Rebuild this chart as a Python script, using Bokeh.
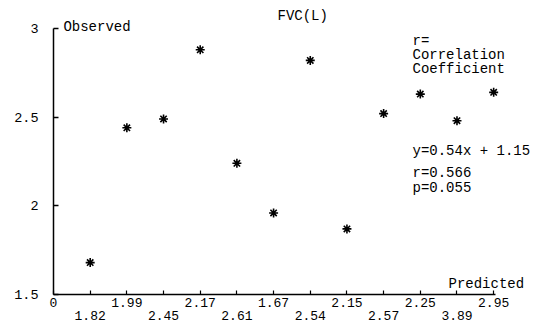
from bokeh.plotting import figure
from bokeh.models import FixedTicker, Range1d, Label, LabelSet, ColumnDataSource
from bokeh.core.properties import value
from bokeh.embed import file_html
from bokeh.resources import INLINE

# ---- data ----
positions = [1, 2, 3, 4, 5, 6, 7, 8, 9, 10, 11, 12]
predicted_labels = ["1.82", "1.99", "2.45", "2.17", "2.61", "1.67",
                    "2.54", "2.15", "2.57", "2.25", "3.89", "2.95"]
observed = [1.68, 2.44, 2.49, 2.88, 2.24, 1.96, 2.82, 1.87, 2.52, 2.63, 2.48, 2.64]
y_ticks = [1.5, 2, 2.5, 3]
y_tick_labels = ["1.5", "2", "2.5", "3"]

FONT = "Liberation Mono"

# frame covers the whole canvas; axes are pinned with fixed_location
# x: 0 -> px 53, 12.05 -> px 495 ; y: 3 -> px 28, 1.5 -> px 294
XS = 442 / 12.05
YS = 266 / 1.5
p = figure(width=540, height=323, output_backend="svg", toolbar_location=None,
           x_range=Range1d(-53 / XS, 487 / XS),
           y_range=Range1d(1.5 - 29 / YS, 3 + 28 / YS),
           min_border=0)
p.outline_line_color = None
p.xgrid.visible = False
p.ygrid.visible = False

# scatter of asterisks
src = ColumnDataSource(dict(x=positions, y=observed))
p.scatter("x", "y", source=src, marker="asterisk", size=9, line_width=1.6,
          line_color="black")

# y axis
ya = p.yaxis[0]
ya.fixed_location = 0
ya.bounds = (1.5, 3)
ya.ticker = FixedTicker(ticks=y_ticks, minor_ticks=[])
ya.major_label_overrides = {t: l for t, l in zip(y_ticks, y_tick_labels)}
ya.major_tick_in = 5
ya.major_tick_out = 0
ya.minor_tick_line_color = None
ya.axis_line_width = 1.5
ya.axis_line_color = "black"
ya.major_tick_line_color = "black"
ya.major_tick_line_width = 1.3
ya.major_label_standoff = 15
ya.major_label_text_font = FONT
ya.major_label_text_font_size = "13.5px"
ya.major_label_text_color = "black"

# x axis: upper row of predicted labels (even positions) + origin "0"
xa = p.xaxis[0]
xa.fixed_location = 1.5
xa.bounds = (0, 12.05)
xa.ticker = FixedTicker(ticks=[0] + positions, minor_ticks=[])
overrides = {0: "0"}
for pos, lab in zip(positions, predicted_labels):
    overrides[pos] = lab if pos % 2 == 0 else ""
xa.major_label_overrides = overrides
xa.major_tick_in = 4
xa.major_tick_out = 0
xa.minor_tick_line_color = None
xa.axis_line_width = 1.5
xa.axis_line_color = "black"
xa.major_tick_line_color = "black"
xa.major_tick_line_width = 1.2
xa.major_label_standoff = 3
xa.major_label_text_font = FONT
xa.major_label_text_font_size = "13px"
xa.major_label_text_color = "black"

# lower row of predicted labels (odd positions)
low_x = [pos for pos in positions if pos % 2 == 1]
low_t = [lab for pos, lab in zip(positions, predicted_labels) if pos % 2 == 1]
low_src = ColumnDataSource(dict(x=low_x, y=[1.5 - 20.5 / YS] * len(low_x), text=low_t))
p.add_layout(LabelSet(x="x", y="y", text="text", source=low_src,
                      text_align="center", text_baseline="middle",
                      text_font=value(FONT), text_font_size=value("13px"),
                      text_color=value("black")))

def note(x, y, t):
    p.add_layout(Label(x=x, y=y, text=t, text_align="left",
                       text_baseline="middle", text_font=FONT,
                       text_font_size="14px", text_color="black"))

note(0.27, 3.007, "Observed")
note(6.107, 3.068, "FVC(L)")
note(9.787, 2.928, "r=")
note(9.787, 2.853, "Correlation")
note(9.787, 2.769, "Coefficient")
note(9.787, 2.308, "y=0.54x + 1.15")
note(9.787, 2.186, "r=0.566")
note(9.787, 2.102, "p=0.055")
note(10.769, 1.560, "Predicted")

open("out.html", "w").write(file_html(p, INLINE))
